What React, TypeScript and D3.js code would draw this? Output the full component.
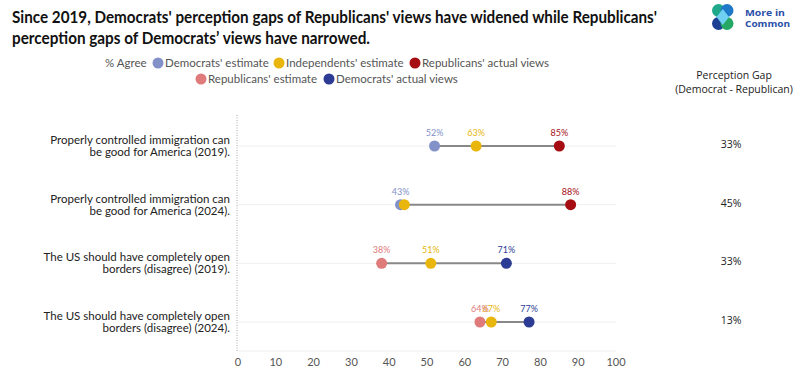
import React from "react";
import * as d3 from "d3";

const categories = [
  ["Properly controlled immigration can", "be good for America (2019)."],
  ["Properly controlled immigration can", "be good for America (2024)."],
  ["The US should have completely open", "borders (disagree) (2019)."],
  ["The US should have completely open", "borders (disagree) (2024)."],
];
const seriesNames = [
  "Democrats' estimate",
  "Independents' estimate",
  "Republicans' actual views",
  "Republicans' estimate",
  "Democrats' actual views",
];
const seriesColors = ["#8291c8", "#e8b60c", "#a50d12", "#e07b7b", "#2c3c94"];
const demEstimate = [52, 43, null, null];
const indEstimate = [63, 44, 51, 67];
const repActual = [85, 88, null, null];
const repEstimate = [null, null, 38, 64];
const demActual = [null, null, 71, 77];
const gaps = ["33%", "45%", "33%", "13%"];
const hiddenLabels = [[1, 1]]; // [row, series] labels not shown
const xTicks = [0, 10, 20, 30, 40, 50, 60, 70, 80, 90, 100];

const seriesValues = [demEstimate, indEstimate, repActual, repEstimate, demActual];

export default function App() {
  const W = 800, H = 373;
  const x = d3.scaleLinear().domain([0, 100]).range([238, 616]);
  const y = d3.scalePoint<number>().domain([0, 1, 2, 3]).range([146, 322]);
  const font = "Lato, 'Noto Sans', sans-serif";
  const cal = "'Open Sans', 'Noto Sans', sans-serif";

  const legendItems = [
    { i: 0, cx: 158, cy: 63 },
    { i: 1, cx: 279, cy: 63 },
    { i: 2, cx: 415, cy: 63 },
    { i: 3, cx: 201, cy: 79 },
    { i: 4, cx: 329, cy: 79 },
  ];

  return (
    <svg width={W} height={H} style={{ position: "absolute", left: 0, top: 0, background: "#fff" }}>
      {/* Title */}
      <text x={12} y={23} fontFamily={font} fontWeight={700} fontSize={17} fill="#111" textLength={645} lengthAdjust="spacingAndGlyphs">
        Since 2019, Democrats' perception gaps of Republicans' views have widened while Republicans'
      </text>
      <text x={12} y={44} fontFamily={font} fontWeight={700} fontSize={17} fill="#111" textLength={358} lengthAdjust="spacingAndGlyphs">
        perception gaps of Democrats’ views have narrowed.
      </text>

      {/* Logo */}
      <g>
        <circle cx={718.5} cy={10.5} r={6.5} fill="#1fa88a" />
        <circle cx={727} cy={10.5} r={6.5} fill="#1f78c8" />
        <circle cx={718.5} cy={23.5} r={6.5} fill="#1c3f94" />
        <circle cx={727} cy={23.5} r={6.5} fill="#25a865" />
        <path d="M722.75 9 L729 17 L722.75 25 L716.5 17 Z" fill="#6fd0f2" />
        <text x={745} y={15.5} fontFamily={cal} fontWeight={700} fontSize={9.5} fill="#2a4fa8" textLength={40} lengthAdjust="spacingAndGlyphs">More in</text>
        <text x={745} y={26.5} fontFamily={cal} fontWeight={700} fontSize={9.5} fill="#2a4fa8" textLength={45} lengthAdjust="spacingAndGlyphs">Common</text>
      </g>

      {/* Legend */}
      <text x={105} y={67} fontFamily={font} fontSize={11.5} fill="#555">% Agree</text>
      {legendItems.map((d) => (
        <g key={d.i}>
          <circle cx={d.cx} cy={d.cy} r={5.5} fill={seriesColors[d.i]} />
          <text x={d.cx + 7} y={d.cy + 4} fontFamily={font} fontSize={11.5} fill="#555">
            {seriesNames[d.i]}
          </text>
        </g>
      ))}

      {/* Perception gap header */}
      <text x={734} y={79} textAnchor="middle" fontFamily={cal} fontSize={10.5} fill="#222">Perception Gap</text>
      <text x={734} y={93} textAnchor="middle" fontFamily={cal} fontSize={10.5} fill="#222">(Democrat - Republican)</text>

      {/* vertical dotted axis line */}
      <line x1={x(0) - 1} x2={x(0) - 1} y1={115} y2={351} stroke="#aaa" strokeDasharray="1,1.5" />
      {/* bottom axis */}
      <line x1={x(0)} x2={x(100)} y1={351} y2={351} stroke="#eee" />
      {xTicks.map((t) => (
        <text key={t} x={x(t)} y={366} textAnchor="middle" fontFamily={font} fontSize={11} fill="#555">
          {t}
        </text>
      ))}

      {categories.map((lines, r) => {
        const cy = y(r)!;
        const vals = seriesValues
          .map((arr, si) => ({ si, v: arr[r] }))
          .filter((d) => d.v !== null) as { si: number; v: number }[];
        const ext = d3.extent(vals, (d) => d.v) as [number, number];
        return (
          <g key={r}>
            <line x1={x(0)} x2={x(100)} y1={cy} y2={cy} stroke="#f0f0f0" />
            {lines.map((l, li) => (
              <text key={li} x={230} y={cy - 2 + li * 12} textAnchor="end" fontFamily={font} fontSize={11.5} fill="#222">
                {l}
              </text>
            ))}
            <line x1={x(ext[0])} x2={x(ext[1])} y1={cy} y2={cy} stroke="#888" strokeWidth={2} />
            {vals.map((d) => (
              <circle key={d.si} cx={x(d.v)} cy={cy} r={5.5} fill={seriesColors[d.si]} />
            ))}
            {vals
              .filter((d) => !hiddenLabels.some(([hr, hs]) => hr === r && hs === d.si))
              .map((d) => (
                <text key={"l" + d.si} x={x(d.v)} y={cy - 10} textAnchor="middle" fontFamily={font} fontSize={9} fill={seriesColors[d.si]}>
                  {d.v}%
                </text>
              ))}
            <text x={731} y={cy + 2} textAnchor="middle" fontFamily={cal} fontSize={10.5} fill="#222">
              {gaps[r]}
            </text>
          </g>
        );
      })}
    </svg>
  );
}
